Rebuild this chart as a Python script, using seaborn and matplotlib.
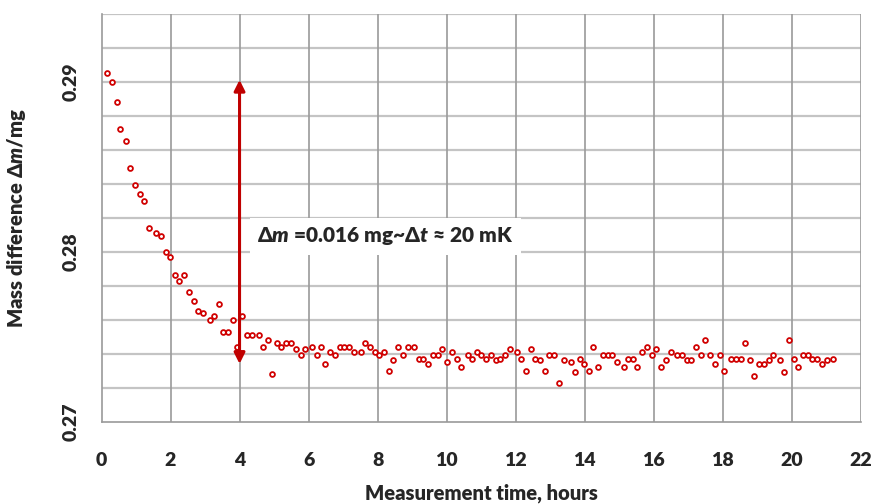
import matplotlib
matplotlib.use("Agg")
import matplotlib.pyplot as plt
from matplotlib.ticker import MultipleLocator, FormatStrFormatter
import seaborn as sns
import pandas as pd

# Measured mass difference vs. elapsed time
hours = [
    0.16, 0.30, 0.44, 0.55, 0.70, 0.83, 0.97, 1.11, 1.24, 1.38,
    1.57, 1.71, 1.86, 1.99, 2.12, 2.25, 2.39, 2.53, 2.67, 2.80,
    2.93, 3.13, 3.27, 3.41, 3.52, 3.66, 3.80, 3.94, 4.08, 4.21,
    4.35, 4.55, 4.68, 4.82, 4.95, 5.08, 5.21, 5.35, 5.49, 5.63,
    5.77, 5.91, 6.09, 6.23, 6.37, 6.49, 6.62, 6.76, 6.90, 7.04,
    7.18, 7.33, 7.51, 7.64, 7.79, 7.92, 8.05, 8.18, 8.32, 8.45,
    8.59, 8.73, 8.87, 9.06, 9.20, 9.33, 9.47, 9.60, 9.74, 9.87,
    10.02, 10.15, 10.29, 10.43, 10.61, 10.75, 10.89, 11.01, 11.15, 11.28,
    11.42, 11.56, 11.70, 11.84, 12.03, 12.17, 12.30, 12.44, 12.56, 12.70,
    12.84, 12.98, 13.11, 13.25, 13.39, 13.59, 13.72, 13.86, 13.99, 14.13,
    14.25, 14.39, 14.53, 14.67, 14.80, 14.95, 15.13, 15.27, 15.41, 15.53,
    15.67, 15.81, 15.94, 16.08, 16.22, 16.36, 16.50, 16.68, 16.82, 16.96,
    17.09, 17.22, 17.36, 17.50, 17.64, 17.77, 17.91, 18.05, 18.25, 18.38,
    18.52, 18.64, 18.78, 18.91, 19.06, 19.19, 19.33, 19.47, 19.66, 19.79,
    19.92, 20.06, 20.19, 20.33, 20.47, 20.60, 20.74, 20.88, 21.02, 21.20,
]
mass_mg = [
    0.2905, 0.2900, 0.2888, 0.2872, 0.2865, 0.2849, 0.2839, 0.2834, 0.2830, 0.2814,
    0.2811, 0.2809, 0.2800, 0.2797, 0.2786, 0.2783, 0.2786, 0.2776, 0.2771, 0.2765,
    0.2764, 0.2760, 0.2762, 0.2769, 0.2753, 0.2753, 0.2760, 0.2744, 0.2762, 0.2751,
    0.2751, 0.2751, 0.2744, 0.2748, 0.2728, 0.2746, 0.2744, 0.2746, 0.2746, 0.2743,
    0.2739, 0.2743, 0.2744, 0.2739, 0.2744, 0.2734, 0.2741, 0.2739, 0.2744, 0.2744,
    0.2744, 0.2741, 0.2741, 0.2746, 0.2744, 0.2741, 0.2739, 0.2741, 0.2730, 0.2736,
    0.2744, 0.2739, 0.2744, 0.2744, 0.2737, 0.2737, 0.2734, 0.2739, 0.2739, 0.2743,
    0.2735, 0.2741, 0.2737, 0.2732, 0.2739, 0.2737, 0.2741, 0.2739, 0.2737, 0.2739,
    0.2736, 0.2737, 0.2739, 0.2743, 0.2741, 0.2737, 0.2730, 0.2743, 0.2737, 0.2736,
    0.2730, 0.2739, 0.2739, 0.2723, 0.2736, 0.2735, 0.2729, 0.2737, 0.2734, 0.2730,
    0.2744, 0.2732, 0.2739, 0.2739, 0.2739, 0.2735, 0.2732, 0.2737, 0.2737, 0.2732,
    0.2741, 0.2744, 0.2739, 0.2743, 0.2732, 0.2736, 0.2741, 0.2739, 0.2739, 0.2736,
    0.2736, 0.2744, 0.2739, 0.2748, 0.2739, 0.2734, 0.2739, 0.2730, 0.2737, 0.2737,
    0.2737, 0.2746, 0.2736, 0.2727, 0.2734, 0.2734, 0.2736, 0.2739, 0.2736, 0.2729,
    0.2748, 0.2737, 0.2732, 0.2739, 0.2739, 0.2737, 0.2737, 0.2734, 0.2736, 0.2737,
]

x_ticks = [0, 2, 4, 6, 8, 10, 12, 14, 16, 18, 20, 22]
y_ticks = [0.27, 0.28, 0.29]

# Double arrow marking the settling span
arrow_hour = 4.0
arrow_top = 0.2901
arrow_bottom = 0.2734
annotation_text = r"$\mathit{\Delta m}$ =0.016 mg~$\mathit{\Delta t}$ ≈ 20 mK"

sns.set_style("white")
W = "heavy"
plt.rcParams["font.family"] = ["Lato", "DejaVu Sans"]
plt.rcParams["font.weight"] = W
plt.rcParams["mathtext.fontset"] = "custom"
plt.rcParams["mathtext.rm"] = "Lato:heavy"
plt.rcParams["mathtext.it"] = "Lato:italic:heavy"
plt.rcParams["mathtext.bf"] = "Lato:heavy"
plt.rcParams["mathtext.fallback"] = "stixsans"

red = "#d00000"
vgrid = "#9a9a9a"
hgrid = "#c4c4c4"

fig = plt.figure(figsize=(8.75, 5.04), dpi=100)
ax = fig.add_axes([0.116, 0.1633, 0.8677, 0.8099])

df = pd.DataFrame({"hours": hours, "mass": mass_mg})
sns.scatterplot(data=df, x="hours", y="mass", ax=ax, marker="o",
                s=12, facecolor="white", edgecolor=red, linewidth=1.3,
                zorder=4, legend=False)

ax.set_xlim(0, 22)
ax.set_ylim(0.27, 0.294)
ax.set_xticks(x_ticks)
ax.yaxis.set_major_locator(MultipleLocator(0.01))
ax.yaxis.set_minor_locator(MultipleLocator(0.002))
ax.yaxis.set_major_formatter(FormatStrFormatter("%.2f"))

ax.grid(False)
for yv in [0.27 + 0.002 * i for i in range(1, 13)]:
    ax.axhline(yv, color=hgrid, lw=1.6, zorder=1)
for xv in x_ticks[1:]:
    ax.axvline(xv, color=vgrid, lw=1.2, zorder=1)

for side in ["top", "right"]:
    ax.spines[side].set_visible(False)
for side in ["left", "bottom"]:
    ax.spines[side].set_color(vgrid)
    ax.spines[side].set_linewidth(1.2)

ax.tick_params(axis="x", which="major", direction="inout", length=8,
               width=1.0, color=vgrid, pad=18, labelsize=14)
ax.tick_params(axis="y", which="both", direction="inout", length=8,
               width=1.0, color=vgrid, pad=12, labelsize=14,
               labelrotation=90)
for lbl in ax.get_yticklabels():
    lbl.set_va("center")
    lbl.set_fontweight(W)
for lbl in ax.get_xticklabels():
    lbl.set_fontweight(W)

ax.set_xlabel("Measurement time, hours", fontsize=14.5, fontweight=W)
ax.xaxis.set_label_coords(0.5, -0.152)
ax.set_ylabel(r"Mass difference $\mathit{\Delta m}$/mg", fontsize=14.5,
              fontweight=W)
ax.yaxis.set_label_coords(-0.097, 0.5)

ax.annotate("", xy=(arrow_hour, arrow_top), xytext=(arrow_hour, arrow_bottom),
            arrowprops=dict(arrowstyle="<|-|>", color="#c00000", lw=2.2,
                            mutation_scale=16, shrinkA=0, shrinkB=0),
            zorder=5)

ax.text(4.52, 0.2809, annotation_text, fontsize=15, fontweight=W,
        ha="left", va="center", zorder=6,
        bbox=dict(boxstyle="square,pad=0.35", fc="white", ec="none"))

fig.savefig("out.png", dpi=100)
